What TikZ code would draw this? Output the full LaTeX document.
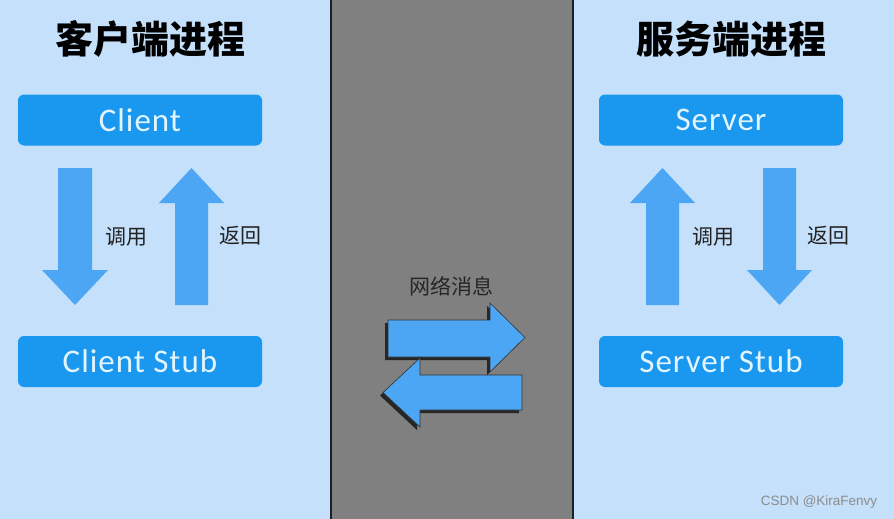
\documentclass[tikz,border=0pt]{standalone}
\usepackage{fontspec}
\setmainfont{Carlito}
\newfontfamily\boxfont[LetterSpace=3]{Carlito}
\newfontfamily\cjk{Noto Sans CJK SC}
\newfontfamily\wm{Liberation Sans}
\definecolor{bgblue}{HTML}{C4E0FB}
\definecolor{midgray}{HTML}{808080}
\definecolor{boxblue}{HTML}{1A97EE}
\definecolor{arrblue}{HTML}{4CA6F4}
\definecolor{boxtext}{HTML}{E2F5FF}
\definecolor{labtext}{HTML}{222222}
\definecolor{divcol}{HTML}{1A1F28}
\tikzset{
  procbox/.style={fill=boxblue, rounded corners=6pt, minimum width=244pt, minimum height=51pt, inner sep=0pt, text=boxtext, font=\boxfont\fontsize{33}{33}\selectfont},
  title/.style={font=\cjk\bfseries\fontsize{38}{38}\selectfont, text=black, inner sep=0pt},
  lab/.style={font=\cjk\fontsize{21}{21}\selectfont, text=labtext, inner sep=0pt},
  blockarrow/.style={fill=arrblue},
  netarrow/.style={fill=arrblue, draw=black!80, line width=0.6pt},
  netshadow/.style={fill=black!85},
  divider/.style={draw=divcol, line width=2.6pt}
}
\begin{document}
\begin{tikzpicture}[x=1pt,y=-1pt]
\useasboundingbox (0,0) rectangle (894,519);
\fill[bgblue] (0,0) rectangle (894,519);
\fill[midgray] (331,0) rectangle (573,519);
\draw[divider] (331,0) -- (331,519);
\draw[divider] (573,0) -- (573,519);

% titles
\node[title] (ctitle) at (150,39) {客户端进程};
\node[title] (stitle) at (731,39) {服务端进程};

% boxes
\node[procbox] (client) at (140,120) {Client};
\node[procbox] (cstub) at (140,361.5) {Client Stub};
\node[procbox] (server) at (721,120) {Server};
\node[procbox] (sstub) at (721,361.5) {Server Stub};

% client side arrows
\fill[blockarrow] (58,168) -- (92,168) -- (92,270) -- (108,270) -- (75,305) -- (42,270) -- (58,270) -- cycle;
\fill[blockarrow] (175,305) -- (208,305) -- (208,203) -- (224,203) -- (191.5,168) -- (159,203) -- (175,203) -- cycle;
\node[lab] (ccall) at (126,237) {调用};
\node[lab] (cret) at (240,236) {返回};

% server side arrows
\fill[blockarrow] (646,305) -- (679,305) -- (679,203) -- (695,203) -- (662.5,168) -- (630,203) -- (646,203) -- cycle;
\fill[blockarrow] (763,168) -- (796,168) -- (796,270) -- (812,270) -- (779.5,305) -- (747,270) -- (763,270) -- cycle;
\node[lab] (scall) at (713,237) {调用};
\node[lab] (sret) at (828,236) {返回};

% network
\node[lab, text=black!85] (net) at (451,286) {网络消息};
\begin{scope}[shift={(-3,3)}]
\fill[netshadow] (388,320) -- (490,320) -- (490,303) -- (525,337.5) -- (490,372) -- (490,357) -- (388,357) -- cycle;
\fill[netshadow] (522,375) -- (420,375) -- (420,358) -- (383,392.5) -- (420,427) -- (420,410) -- (522,410) -- cycle;
\end{scope}
\filldraw[netarrow] (388,320) -- (490,320) -- (490,303) -- (525,337.5) -- (490,372) -- (490,357) -- (388,357) -- cycle;
\filldraw[netarrow] (522,375) -- (420,375) -- (420,358) -- (383,392.5) -- (420,427) -- (420,410) -- (522,410) -- cycle;

% watermark
\node[font=\wm\fontsize{13.5}{13.5}\selectfont, text=black!45, inner sep=0pt] (wmark) at (819,502) {CSDN @KiraFenvy};
\end{tikzpicture}
\end{document}
